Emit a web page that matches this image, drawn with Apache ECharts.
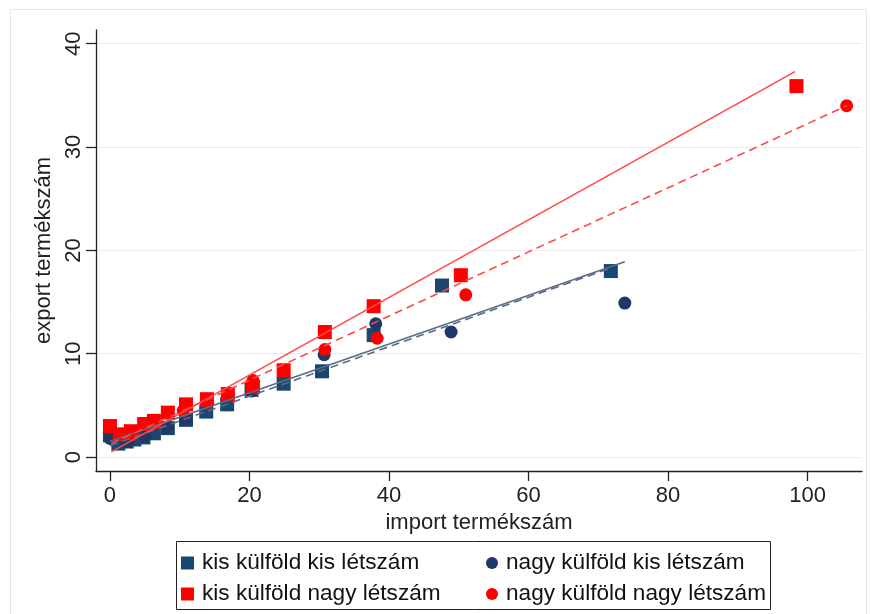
<!DOCTYPE html>
<html>
<head>
<meta charset="utf-8">
<script src="https://cdn.jsdelivr.net/npm/echarts@6/dist/echarts.min.js"></script>
<style>html,body{margin:0;padding:0;background:#fff}#c{width:870px;height:614px}</style>
</head>
<body>
<div id="c"></div>
<script>
// Tick labels
const xTicks = [0, 20, 40, 60, 80, 100];
const yTicks = [0, 10, 20, 30, 40];

// Series names
const names = ['kis külföld kis létszám', 'nagy külföld kis létszám', 'kis külföld nagy létszám', 'nagy külföld nagy létszám'];

// [import, export] points
const kisKisPts = [[0,2.1],[1.2,1.3],[2.4,1.5],[3.5,1.7],[4.8,1.9],[6.3,2.3],[8.3,2.8],[10.9,3.6],[13.8,4.4],[16.8,5.1],[20.3,6.5],[24.9,7.1],[30.4,8.3],[37.8,11.8],[47.6,16.6],[71.8,18.0]];
const nagyKisPts = [[0,1.8],[2.5,1.5],[5.0,2.0],[8.2,2.9],[10.9,3.7],[20.3,6.4],[30.7,9.9],[38.1,12.9],[48.9,12.1],[73.8,14.9]];
const kisNagyPts = [[0,3.0],[1.4,2.2],[3.0,2.5],[4.9,3.2],[6.3,3.5],[8.3,4.3],[10.9,5.1],[13.9,5.6],[16.9,6.1],[20.5,6.8],[24.9,8.4],[30.8,12.1],[37.8,14.6],[50.3,17.6],[98.4,35.9]];
const nagyNagyPts = [[0,2.9],[3.2,2.2],[6.5,3.3],[10.5,4.5],[14.0,5.3],[17.0,6.0],[20.5,7.4],[30.8,10.4],[38.3,11.5],[51.0,15.7],[105.6,34.0]];

// Fitted lines: endpoints
const fitKisKis = [[0,1.1],[71.8,18.3]];
const fitNagyKis = [[0,1.5],[73.8,18.9]];
const fitKisNagy = [[0.2,0.5],[98.2,37.3]];
const fitNagyNagy = [[0.2,1.3],[105.6,34.0]];

const NAVY = '#1a476f', NAVY2 = '#1f3866', RED = '#ff0000';
const BLUELINE = '#5a6b88', REDLINE = '#ff4a4a';
const FONT = '"Liberation Sans", Arial, sans-serif';

const chart = echarts.init(document.getElementById('c'));
chart.setOption({
  animation: false,
  backgroundColor: '#fff',
  textStyle: { fontFamily: FONT },
  graphic: [
    { type: 'rect', shape: { x: 10.5, y: 9.5, width: 856, height: 620 }, style: { fill: 'none', stroke: '#e6e6e6', lineWidth: 1 }, z: -10 },
    { type: 'rect', shape: { x: 176.5, y: 541.5, width: 594, height: 68 }, style: { fill: '#fff', stroke: '#222', lineWidth: 1 }, z: -5 }
  ],
  grid: { left: 96, right: 8, top: 30, bottom: 143, containLabel: false },
  xAxis: {
    type: 'value', min: -2.0, max: 107.8,
    name: 'import termékszám', nameLocation: 'middle', nameGap: 40,
    nameTextStyle: { fontSize: 22, color: '#222', fontFamily: FONT },
    axisLine: { show: true, onZero: false, lineStyle: { color: '#222', width: 1.3 } },
    axisTick: { show: true, length: 10, customValues: xTicks, lineStyle: { color: '#222', width: 1.3 } },
    axisLabel: { customValues: xTicks, fontSize: 22, color: '#222', margin: 14, fontFamily: FONT },
    splitLine: { show: false }
  },
  yAxis: {
    type: 'value', min: -1.35, max: 41.33,
    name: 'export termékszám', nameLocation: 'middle', nameGap: 33,
    nameTextStyle: { fontSize: 22, color: '#222', fontFamily: FONT },
    axisLine: { show: true, onZero: false, lineStyle: { color: '#222', width: 1.3 } },
    axisTick: { show: true, length: 10, customValues: yTicks, lineStyle: { color: '#222', width: 1.3 } },
    axisLabel: { customValues: yTicks, rotate: 90, fontSize: 22, color: '#222', margin: 11, fontFamily: FONT },
    splitLine: { show: true, lineStyle: { color: '#ececec', width: 1.2 } }
  },
  legend: [
    { orient: 'vertical', left: 176, top: 546, padding: 5, itemWidth: 13, itemHeight: 13, itemGap: 7,
      textStyle: { fontSize: 22.6, color: '#111', lineHeight: 24, padding: [0, 0, 0, 3], fontFamily: FONT },
      data: [{ name: names[0], icon: 'rect' }, { name: names[2], icon: 'rect' }] },
    { orient: 'vertical', left: 481, top: 546, padding: 5, itemWidth: 12, itemHeight: 12, itemGap: 7,
      textStyle: { fontSize: 22.6, color: '#111', lineHeight: 24, padding: [0, 0, 0, 3], fontFamily: FONT },
      data: [{ name: names[1], icon: 'circle' }, { name: names[3], icon: 'circle' }] }
  ],
  series: [
    { name: names[0], type: 'scatter', symbol: 'rect', symbolSize: 14, data: kisKisPts, itemStyle: { color: NAVY, opacity: 1 } },
    { name: names[1], type: 'scatter', symbol: 'circle', symbolSize: 13, data: nagyKisPts, itemStyle: { color: NAVY2, opacity: 1 } },
    { name: names[2], type: 'scatter', symbol: 'rect', symbolSize: 14, data: kisNagyPts, itemStyle: { color: RED, opacity: 1 } },
    { name: names[3], type: 'scatter', symbol: 'circle', symbolSize: 13, data: nagyNagyPts, itemStyle: { color: RED, opacity: 1 } },
    { type: 'line', data: fitKisKis, showSymbol: false, silent: true, lineStyle: { color: BLUELINE, width: 1.6, type: [8, 5] } },
    { type: 'line', data: fitNagyKis, showSymbol: false, silent: true, lineStyle: { color: BLUELINE, width: 1.6 } },
    { type: 'line', data: fitKisNagy, showSymbol: false, silent: true, lineStyle: { color: REDLINE, width: 1.6 } },
    { type: 'line', data: fitNagyNagy, showSymbol: false, silent: true, lineStyle: { color: REDLINE, width: 1.6, type: [8, 5] } }
  ]
});
</script>
</body>
</html>
